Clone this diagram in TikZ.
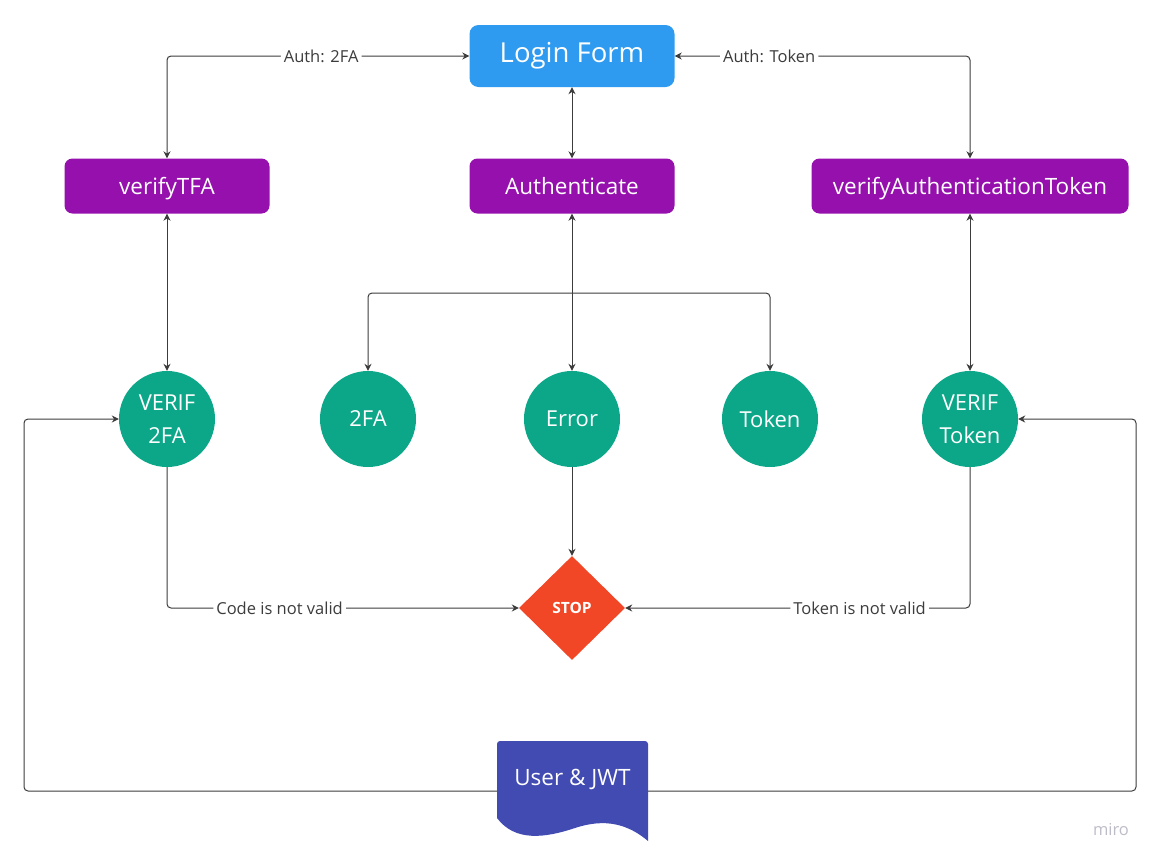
\documentclass[tikz,border=0pt]{standalone}
\usepackage{fontspec}
\setmainfont{Open Sans}
\usetikzlibrary{arrows.meta, shapes.geometric}
\definecolor{loginblue}{HTML}{2E9BF0}
\definecolor{funcpurple}{HTML}{9510AC}
\definecolor{stategreen}{HTML}{0CA789}
\definecolor{stopred}{HTML}{F24726}
\definecolor{userblue}{HTML}{414BB2}
\definecolor{linegray}{HTML}{3C3C3C}
\definecolor{mirogray}{HTML}{BDBDC8}

\begin{document}
\begin{tikzpicture}[x=1pt, y=-1pt,
    every node/.style={font=\fontsize{16.5}{19}\selectfont},
    func/.style={fill=funcpurple, text=white, rounded corners=8pt, minimum height=55pt,
      text height=20pt, text depth=4pt, font=\fontsize{22.5}{26}\selectfont},
    state/.style={circle, fill=stategreen, text=white, minimum size=96pt, inner sep=0pt,
      align=center, font=\fontsize{22}{33}\selectfont},
    lbl/.style={fill=white, text=linegray, inner sep=3pt},
    link/.style={draw=linegray, line width=1pt, rounded corners=4pt,
      -{Stealth[length=7pt,width=7pt]}},
    both/.style={link, {Stealth[length=7pt,width=7pt]}-{Stealth[length=7pt,width=7pt]}}]

    \useasboundingbox (0,0) rectangle (1157,863);

    % Login form and the three calls
    \node[fill=loginblue, text=white, rounded corners=9pt, minimum width=205pt, minimum height=62pt,
      font=\fontsize{27.5}{32}\selectfont] (login) at (572,56) {Login Form};
    \node[func, minimum width=205pt] (auth) at (572,186) {Authenticate};
    \node[func, minimum width=205pt] (vtfa) at (167,186) {verifyTFA};
    \node[func, minimum width=317pt] (vtok) at (970,186) {verifyAuthenticationToken};

    % States
    \node[state] (v2fa) at (167,419) {VERIF\\2FA};
    \node[state] (tfa) at (368,419) {2FA};
    \node[state] (err) at (572,419) {Error};
    \node[state] (tok) at (770,419) {Token};
    \node[state] (vtokc) at (970,419) {VERIF\\Token};

    % Stop
    \node[diamond, fill=stopred, text=white, minimum width=106pt, minimum height=104pt, inner sep=0pt,
      font=\fontsize{15.5}{18}\bfseries] (stop) at (572,608) {STOP};

    % User & JWT document
    \fill[userblue] (497,818) [rounded corners=3pt] -- (497,741) -- (648,741) [sharp corners] -- (648,841)
      .. controls (628,824) and (605,818) .. (575,828)
      .. controls (545,838) and (515,842) .. (497,818) -- cycle;
    \node[text=white, minimum width=151pt, minimum height=100pt, inner sep=0pt, text depth=27pt,
      font=\fontsize{22.5}{26}\selectfont] (user) at (572.5,791) {User \& JWT};

    \node[text=mirogray, font=\fontsize{16.5}{18}\selectfont] (miro) at (1111,830) {miro};

    % Connectors at the top
    \draw[both] (vtfa.north) |- node[lbl, pos=0.755] {Auth: 2FA} (login.west);
    \draw[both] (vtok.north) |- node[lbl, pos=0.84] {Auth: Token} (login.east);
    \draw[both] (login) -- (auth);
    \draw[both] (vtfa) -- (v2fa);
    \draw[both] (vtok) -- (vtokc);

    % Authenticate results
    \coordinate (split) at (572,293);
    \draw[both] (auth) -- (err);
    \draw[link] (split) -| (tfa);
    \draw[link] (split) -| (tok);

    % Paths to stop
    \draw[link] (err) -- (stop);
    \draw[link] (v2fa.south) |- node[lbl, pos=0.66] {Code is not valid} (stop.west);
    \draw[link] (vtokc.south) |- node[lbl, pos=0.66] {Token is not valid} (stop.east);

    % User & JWT back to the verify states
    \draw[link] (user.west) -- (24,791) |- (v2fa.west);
    \draw[link] (user.east) -- (1136,791) |- (vtokc.east);

\end{tikzpicture}
\end{document}
